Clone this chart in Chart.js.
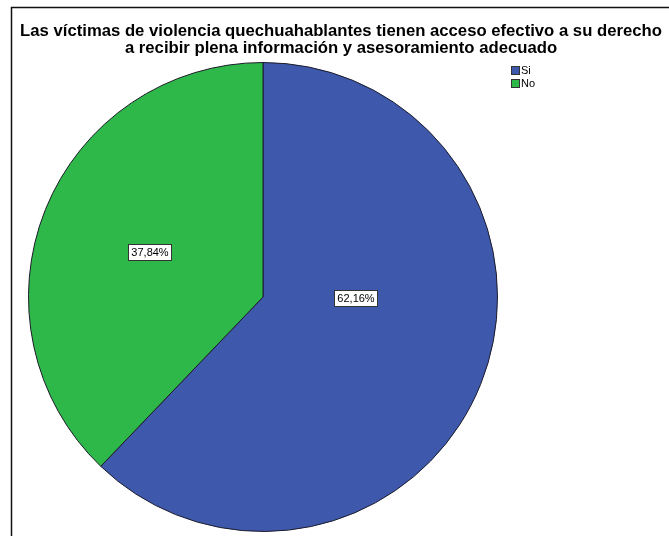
<!DOCTYPE html>
<html>
<head>
<meta charset="utf-8">
<script src="https://cdn.jsdelivr.net/npm/chart.js@4"></script>
<style>
  html, body { margin: 0; padding: 0; background: #fff; }
  canvas { display: block; }
</style>
</head>
<body>
<canvas id="pie" width="669" height="536"></canvas>
<script>
// Respuestas y porcentajes
const categorias = ['Si', 'No'];
const porcentajes = [62.16, 37.84];
const colores = ['#3e58ac', '#2eb84a'];
const tituloLineas = [
    'Las víctimas de violencia quechuahablantes tienen acceso efectivo a su derecho',
    'a recibir plena información y asesoramiento adecuado'
];

const fuente = '"Liberation Sans", Arial, sans-serif';

// Formato con coma decimal
const formatPct = v => v.toFixed(2).replace('.', ',') + '%';

// Marco, título, leyenda y etiquetas de porcentaje
const decoracion = {
    id: 'decoracion',
    afterDraw(chart, args, opts) {
        const ctx = chart.ctx;
        ctx.save();

        // marco exterior (sólo arriba e izquierda visibles)
        ctx.strokeStyle = '#111';
        ctx.lineWidth = 1.5;
        ctx.beginPath();
        ctx.moveTo(11.5, chart.height);
        ctx.lineTo(11.5, 7.5);
        ctx.lineTo(chart.width, 7.5);
        ctx.stroke();

        // título
        ctx.fillStyle = '#000';
        ctx.textAlign = 'center';
        ctx.textBaseline = 'middle';
        ctx.font = 'bold 16.7px ' + fuente;
        tituloLineas.forEach((linea, i) => ctx.fillText(linea, 341, 31 + i * 17));

        // leyenda
        ctx.font = '11px ' + fuente;
        ctx.textAlign = 'left';
        categorias.forEach((cat, i) => {
            const y = 66 + i * 13;
            ctx.fillStyle = colores[i];
            ctx.fillRect(511, y, 8, 8);
            ctx.strokeStyle = '#333';
            ctx.lineWidth = 1;
            ctx.strokeRect(511.5, y + 0.5, 8, 8);
            ctx.fillStyle = '#000';
            ctx.fillText(cat, 521, y + 5);
        });

        // etiquetas en el centroide de cada sector
        const arcs = chart.getDatasetMeta(0).data;
        arcs.forEach((arc, i) => {
            const a = arc.startAngle, b = arc.endAngle;
            const half = (b - a) / 2;
            const mid = a + half;
            const d = 2 * arc.outerRadius * Math.sin(half) / (3 * half);
            const shift = opts.ajuste[i] || [0, 0];
            const x = arc.x + Math.cos(mid) * d + shift[0];
            const y = arc.y + Math.sin(mid) * d + shift[1];
            const txt = formatPct(porcentajes[i]);
            ctx.font = '11px ' + fuente;
            const w = Math.round(ctx.measureText(txt).width) + 6;
            const h = 16;
            const bx = Math.round(x - w / 2) + 0.5;
            const by = Math.round(y - h / 2) + 0.5;
            ctx.fillStyle = '#fff';
            ctx.fillRect(bx, by, w, h);
            ctx.strokeStyle = '#333';
            ctx.lineWidth = 1;
            ctx.strokeRect(bx, by, w, h);
            ctx.fillStyle = '#000';
            ctx.textAlign = 'center';
            ctx.fillText(txt, bx + w / 2, by + h / 2 + 0.5);
        });

        ctx.restore();
    }
};

new Chart(document.getElementById('pie'), {
    type: 'pie',
    data: {
        labels: categorias,
        datasets: [{
            data: porcentajes,
            backgroundColor: colores,
            borderColor: '#1b1b2a',
            borderWidth: 1
        }]
    },
    options: {
        responsive: false,
        animation: false,
        layout: { padding: { left: 28, top: 62, right: 171, bottom: 4 } },
        plugins: {
            legend: { display: false },
            tooltip: { enabled: false },
            decoracion: { ajuste: [[24, -27], [0, 0]] }
        }
    },
    plugins: [decoracion]
});
</script>
</body>
</html>
